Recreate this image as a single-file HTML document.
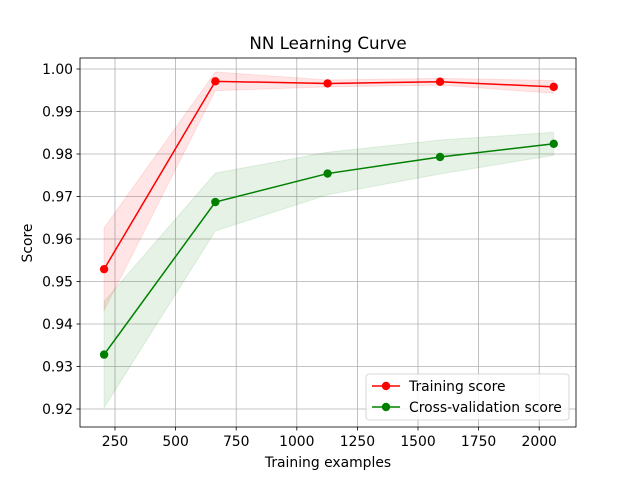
<!DOCTYPE html>
<html><head><meta charset="utf-8"><style>
body{margin:0;background:#fff;font-family:"Liberation Sans","DejaVu Sans",sans-serif}
</style></head><body>
<svg id="chart" width="640" height="480" font-family="DejaVu Sans, Liberation Sans, sans-serif"></svg>
<script>
const sizes=[205,664,1127,1591,2060];
const trainMean=[0.9529,0.9971,0.9966,0.9970,0.9958];
const trainStd=[0.0097,0.0022,0.0008,0.0008,0.0015];
const cvMean=[0.9328,0.9687,0.9754,0.9793,0.9824];
const cvStd=[0.0125,0.0068,0.005,0.004,0.0027];
const xTicks=[250,500,750,1000,1250,1500,1750,2000];
const yTicks=[0.92,0.93,0.94,0.95,0.96,0.97,0.98,0.99,1.00];

const NS="http://www.w3.org/2000/svg";
const svg=document.getElementById('chart');
const L=80,R=576,T=58,B=427;
const X=v=>115+(v-250)*60.6/250;
const Y=v=>69+(1.0-v)*4250;
function el(t,a,p){const e=document.createElementNS(NS,t);for(const k in a)e.setAttribute(k,a[k]);(p||svg).appendChild(e);return e;}
function txt(s,a){const e=el('text',a);e.textContent=s;return e;}

xTicks.forEach(v=>{const g=el('line',{x1:X(v),x2:X(v),y1:T,y2:B,stroke:'#b0b0b0','stroke-width':0.8});

});
yTicks.forEach(v=>{const g=el('line',{x1:L,x2:R,y1:Y(v),y2:Y(v),stroke:'#b0b0b0','stroke-width':0.8});

});

function band(m,s,color,name){
  let pts=sizes.map((x,i)=>X(x)+','+Y(m[i]+s[i]));
  pts=pts.concat(sizes.map((x,i)=>X(x)+','+Y(m[i]-s[i])).reverse());
  const p=el('polygon',{points:pts.join(' '),fill:color,'fill-opacity':0.1,stroke:color,'stroke-opacity':0.1});
  
  
}
function series(m,color,name){
  const p=el('polyline',{points:sizes.map((x,i)=>X(x)+','+Y(m[i])).join(' '),fill:'none',stroke:color,'stroke-width':1.5});
  
  
  sizes.forEach((x,i)=>{const c=el('circle',{cx:X(x),cy:Y(m[i]),r:4.2,fill:color});
  
  });
}
band(trainMean,trainStd,'red','training-band');
band(cvMean,cvStd,'green','cv-band');
series(trainMean,'red','training-score');
series(cvMean,'green','cv-score');

const f=el('rect',{x:L,y:T,width:R-L,height:B-T,fill:'none',stroke:'#000','stroke-width':0.8});



xTicks.forEach(v=>{el('line',{x1:X(v),x2:X(v),y1:B,y2:B+3.5,stroke:'#000','stroke-width':0.8});
const t=txt(String(v),{x:X(v),y:B+19,'text-anchor':'middle','font-size':13.9});

});
yTicks.forEach(v=>{el('line',{x1:L-3.5,x2:L,y1:Y(v),y2:Y(v),stroke:'#000','stroke-width':0.8});
const t=txt(v.toFixed(2),{x:L-7,y:Y(v)+5,'text-anchor':'end','font-size':13.9});

});

let t=txt('NN Learning Curve',{x:328,y:49,'text-anchor':'middle','font-size':16.7});

t=txt('Training examples',{x:328,y:467,'text-anchor':'middle','font-size':13.9});

t=txt('Score',{x:32,y:243,'text-anchor':'middle','font-size':13.9,transform:'rotate(-90 32 243)'});


const lg=el('rect',{x:366,y:374,width:203,height:46,rx:3,fill:'#fff','fill-opacity':0.8,stroke:'#ccc','stroke-width':0.8});

[['red','Training score',386],['green','Cross-validation score',407]].forEach(([c,s,y])=>{
  el('line',{x1:372,x2:400,y1:y,y2:y,stroke:c,'stroke-width':1.5});
  el('circle',{cx:386,cy:y,r:4.2,fill:c});
  const e=txt(s,{x:409,y:y+5,'font-size':13.9});
  
  
});
</script>
</body></html>
